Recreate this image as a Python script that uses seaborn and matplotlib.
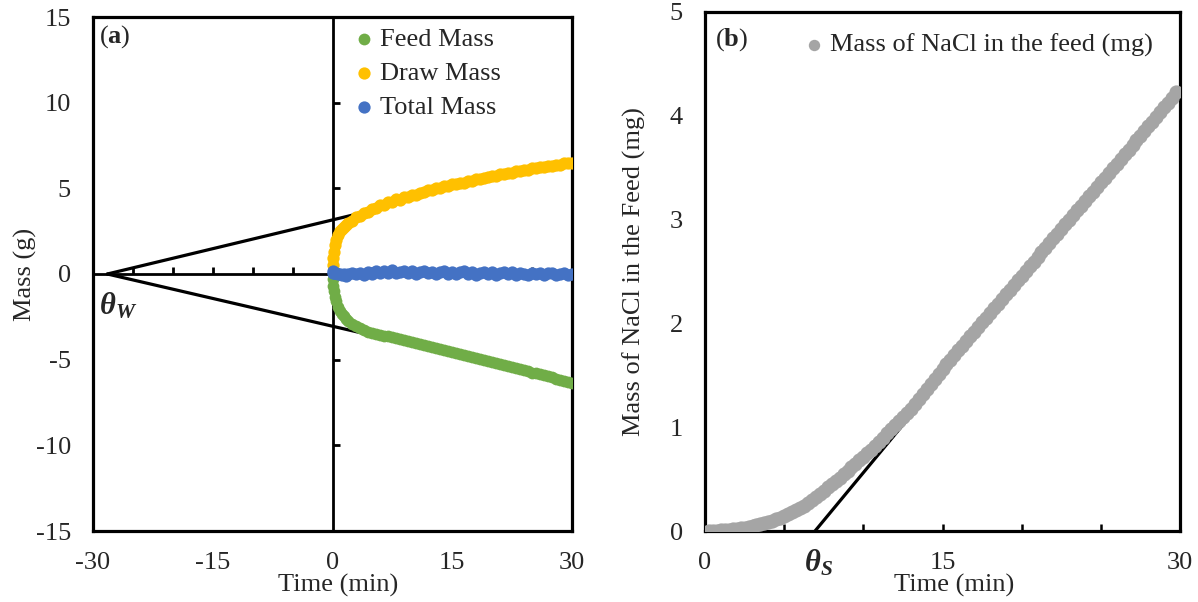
import matplotlib
matplotlib.use("Agg")
import matplotlib.pyplot as plt
import seaborn as sns

# ---------------- data: panel (a) ----------------
time_a = [0, 0.1, 0.2, 0.35, 0.5, 0.75, 1.0, 1.25, 1.5, 1.75,
          2.0, 2.5, 3.0, 3.5, 4.0, 4.5, 5.0, 5.5, 6.0, 6.5,
          7.0, 7.5, 8.0, 8.5, 9.0, 9.5, 10.0, 10.5, 11.0, 11.5,
          12.0, 12.5, 13.0, 13.5, 14.0, 14.5, 15.0, 15.5, 16.0, 16.5,
          17.0, 17.5, 18.0, 18.5, 19.0, 19.5, 20.0, 20.5, 21.0, 21.5,
          22.0, 22.5, 23.0, 23.5, 24.0, 24.5, 25.0, 25.5, 26.0, 26.5,
          27.0, 27.5, 28.0, 28.5, 29.0, 29.5, 30.0]
draw_mass = [0.5, 0.95, 1.3, 1.7, 2.0, 2.3, 2.5, 2.62, 2.75, 2.85,
             2.98, 3.1, 3.3, 3.4, 3.58, 3.63, 3.8, 3.84, 4.0, 4.03,
             4.18, 4.19, 4.35, 4.34, 4.48, 4.5, 4.63, 4.62, 4.75, 4.76,
             4.88, 4.88, 5.01, 5.0, 5.13, 5.12, 5.23, 5.23, 5.33, 5.34,
             5.43, 5.44, 5.53, 5.54, 5.63, 5.64, 5.73, 5.72, 5.83, 5.82,
             5.91, 5.92, 6.0, 6.01, 6.09, 6.08, 6.17, 6.16, 6.23, 6.24,
             6.31, 6.31, 6.39, 6.38, 6.46, 6.45, 6.5]
feed_mass = [-0.3, -0.7, -1.0, -1.35, -1.6, -1.9, -2.15, -2.32, -2.47, -2.6,
             -2.72, -2.9, -3.05, -3.17, -3.28, -3.36, -3.43, -3.49, -3.54, -3.59,
             -3.63, -3.68, -3.73, -3.78, -3.84, -3.9, -3.96, -4.02, -4.08, -4.14,
             -4.2, -4.26, -4.32, -4.38, -4.44, -4.5, -4.56, -4.62, -4.68, -4.74,
             -4.8, -4.86, -4.92, -4.98, -5.04, -5.1, -5.16, -5.22, -5.28, -5.33,
             -5.39, -5.45, -5.51, -5.57, -5.63, -5.69, -5.75, -5.8, -5.86, -5.92,
             -5.98, -6.04, -6.1, -6.16, -6.22, -6.28, -6.34]
total_mass = [0.15, 0.08, 0.05, 0.04, 0.06, 0.02, 0.0, -0.06, 0.01, -0.1,
              -0.02, 0.05, 0.0, 0.08, -0.04, 0.14, 0.02, 0.16, 0.05, 0.2,
              0.08, 0.22, 0.06, 0.12, 0.2, 0.04, 0.16, 0.02, 0.12, 0.18,
              0.04, 0.14, 0.0, 0.12, 0.16, 0.02, 0.14, -0.02, 0.1, 0.15,
              0.0, 0.12, -0.03, 0.08, 0.13, 0.0, 0.1, -0.04, 0.08, 0.12,
              -0.02, 0.1, -0.05, 0.06, 0.02, -0.08, 0.06, -0.02, 0.08, -0.06,
              0.04, 0.07, -0.08, 0.02, 0.05, -0.04, 0.02]
tangent_up_x = [-28.2, 3.6]
tangent_up_y = [0.0, 3.56]
tangent_dn_x = [-28.2, 5.3]
tangent_dn_y = [0.0, -3.62]

xticks_a = [-30, -15, 0, 15, 30]
yticks_a = [-15, -10, -5, 0, 5, 10, 15]
centre_xticks_a = [-25, -20, -15, -10, -5, 5, 10, 15, 20, 25]
centre_yticks_a = [-10, -5, 5, 10]

# ---------------- data: panel (b) ----------------
time_b = [0.25, 0.5, 0.75, 1.0, 1.25, 1.5, 1.75, 2.0, 2.25, 2.5, 2.75, 3.0,
          3.25, 3.5, 3.75, 4.0, 4.25, 4.5, 4.75, 5.0, 5.25, 5.5, 5.75, 6.0,
          6.25, 6.5, 6.75, 7.0, 7.25, 7.5, 7.75, 8.0, 8.25, 8.5, 8.75, 9.0,
          9.25, 9.5, 9.75, 10.0, 10.25, 10.5, 10.75, 11.0, 11.25, 11.5, 11.75, 12.0,
          12.25, 12.5, 12.75, 13.0, 13.25, 13.5, 13.75, 14.0, 14.25, 14.5, 14.75, 15.0,
          15.25, 15.5, 15.75, 16.0, 16.25, 16.5, 16.75, 17.0, 17.25, 17.5, 17.75, 18.0,
          18.25, 18.5, 18.75, 19.0, 19.25, 19.5, 19.75, 20.0, 20.25, 20.5, 20.75, 21.0,
          21.25, 21.5, 21.75, 22.0, 22.25, 22.5, 22.75, 23.0, 23.25, 23.5, 23.75, 24.0,
          24.25, 24.5, 24.75, 25.0, 25.25, 25.5, 25.75, 26.0, 26.25, 26.5, 26.75, 27.0,
          27.25, 27.5, 27.75, 28.0, 28.25, 28.5, 28.75, 29.0, 29.25, 29.5, 29.75]
nacl_mass = [0.0, 0.0, 0.002, 0.005, 0.007, 0.01, 0.015, 0.02, 0.025, 0.03, 0.037, 0.045,
             0.055, 0.065, 0.075, 0.085, 0.1, 0.115, 0.13, 0.145, 0.162, 0.18, 0.2, 0.22,
             0.245, 0.27, 0.3, 0.33, 0.36, 0.39, 0.422, 0.455, 0.485, 0.515, 0.548, 0.58,
             0.612, 0.645, 0.68, 0.715, 0.75, 0.785, 0.822, 0.86, 0.9, 0.94, 0.98, 1.02,
             1.06, 1.10, 1.14, 1.18, 1.228, 1.275, 1.322, 1.37, 1.418, 1.465, 1.512, 1.56,
             1.605, 1.65, 1.695, 1.74, 1.785, 1.83, 1.875, 1.92, 1.965, 2.01, 2.055, 2.10,
             2.145, 2.19, 2.235, 2.28, 2.325, 2.37, 2.415, 2.46, 2.505, 2.55, 2.595, 2.64,
             2.685, 2.73, 2.775, 2.82, 2.865, 2.91, 2.955, 3.0, 3.045, 3.09, 3.135, 3.18,
             3.225, 3.27, 3.315, 3.36, 3.405, 3.45, 3.495, 3.54, 3.585, 3.63, 3.675, 3.72,
             3.765, 3.81, 3.855, 3.9, 3.945, 3.99, 4.035, 4.08, 4.125, 4.17, 4.225]
tangent_b_x = [6.95, 13.3]
tangent_b_y = [0.0, 1.17]

xticks_b = [0, 15, 30]
minor_xticks_b = [5, 10, 20, 25]
yticks_b = [0, 1, 2, 3, 4, 5]

GREEN, YELLOW, BLUE, GRAY = "#70AD47", "#FFC000", "#4472C4", "#A5A5A5"

# ---------------- style ----------------
sns.set_theme(style="white")
plt.rcParams["font.family"] = ["Liberation Serif", "DejaVu Serif"]
plt.rcParams["axes.unicode_minus"] = False
plt.rcParams["mathtext.fontset"] = "custom"
plt.rcParams["mathtext.rm"] = "Liberation Serif"
plt.rcParams["mathtext.it"] = "Liberation Serif:italic"
plt.rcParams["mathtext.bf"] = "Liberation Serif:bold"
plt.rcParams["mathtext.bfit"] = "Liberation Serif:italic:bold"
FS = 19

fig = plt.figure(figsize=(11.98, 6.02), dpi=100)
pos_a = [93 / 1198, 1 - 531 / 602, (572 - 93) / 1198, (531 - 17) / 602]
pos_b = [705 / 1198, 1 - 531 / 602, (1180 - 705) / 1198, (531 - 12) / 602]

# ---- panel (a): frame axes with outer labels ----
ax = fig.add_axes(pos_a)
ax.set_xlim(-30, 30)
ax.set_ylim(-15, 15)
ax.set_xticks(xticks_a)
ax.set_yticks(yticks_a)
ax.tick_params(axis="x", length=0, labelsize=FS, pad=15)
ax.tick_params(axis="y", length=0, labelsize=FS, pad=16)
for s in ax.spines.values():
    s.set_linewidth(2.3)
    s.set_color("black")
ax.set_xlabel("Time (min)", fontsize=FS, va="top")
ax.xaxis.set_label_coords(0.511, -0.083)
ax.set_ylabel("Mass (g)", fontsize=FS)
ax.yaxis.set_label_coords(-0.117, 0.5)

# overlay axes carrying the centred axis lines and the data
axc = fig.add_axes(pos_a)
axc.patch.set_alpha(0)
axc.spines["top"].set_visible(False)
axc.spines["right"].set_visible(False)
axc.spines["left"].set_position(("data", 0))
axc.spines["bottom"].set_position(("data", 0))
for k in ("left", "bottom"):
    axc.spines[k].set_linewidth(2.0)
    axc.spines[k].set_color("black")

sns.lineplot(x=tangent_up_x, y=tangent_up_y, ax=axc, color="black", lw=2.3, zorder=2)
sns.lineplot(x=tangent_dn_x, y=tangent_dn_y, ax=axc, color="black", lw=2.3, zorder=2)
sns.scatterplot(x=time_a, y=feed_mass, ax=axc, color=GREEN, s=72, linewidth=0,
                label="Feed Mass", zorder=3)
sns.scatterplot(x=time_a, y=draw_mass, ax=axc, color=YELLOW, s=78, linewidth=0,
                label="Draw Mass", zorder=3)
sns.scatterplot(x=time_a, y=total_mass, ax=axc, color=BLUE, s=78, linewidth=0,
                label="Total Mass", zorder=3)
axc.set_xlim(-30, 30)
axc.set_ylim(-15, 15)
axc.set_xticks(centre_xticks_a)
axc.set_yticks(centre_yticks_a)
axc.tick_params(direction="in", length=5, width=2, labelbottom=False, labelleft=False,
                bottom=True, left=True, color="black")
axc.set_xlabel("")
axc.set_ylabel("")
axc.legend(loc="upper left", bbox_to_anchor=(0.505, 1.005), frameon=False, fontsize=FS,
           handletextpad=0.0, labelspacing=0.4, borderaxespad=0.1, markerscale=1.0,
           handlelength=1.2)
axc.text(0.012, 0.962, r"($\mathbf{a}$)", transform=axc.transAxes, fontsize=FS,
         ha="left", va="center")
axc.text(-29.3, -1.9, r"$\mathbfit{\theta}_{\mathbfit{W}}$", fontsize=FS + 3,
         ha="left", va="center")

# ---- panel (b) ----
bx = fig.add_axes(pos_b)
sns.lineplot(x=tangent_b_x, y=tangent_b_y, ax=bx, color="black", lw=2.3, zorder=2)
sns.scatterplot(x=time_b, y=nacl_mass, ax=bx, color=GRAY, s=105, linewidth=0,
                label="Mass of NaCl in the feed (mg)", zorder=3)
bx.set_xlim(0, 30)
bx.set_ylim(0, 5)
bx.set_xticks(xticks_b)
bx.set_xticks(minor_xticks_b, minor=True)
bx.set_yticks(yticks_b)
bx.tick_params(axis="x", which="both", direction="in", length=5, width=1.8,
               bottom=True, labelsize=FS, pad=15, color="black")
bx.tick_params(axis="y", length=0, labelsize=FS, pad=16)
for s in bx.spines.values():
    s.set_linewidth(2.3)
    s.set_color("black")
bx.set_xlabel("Time (min)", fontsize=FS, va="top")
bx.xaxis.set_label_coords(0.524, -0.083)
bx.set_ylabel("Mass of NaCl in the Feed (mg)", fontsize=FS)
bx.yaxis.set_label_coords(-0.124, 0.5)
bx.legend(loc="upper right", bbox_to_anchor=(0.97, 0.985), frameon=False, fontsize=FS,
          handletextpad=0.0, borderaxespad=0.1, handlelength=1.2, markerscale=0.8)
bx.text(0.021, 0.946, r"($\mathbf{b}$)", transform=bx.transAxes, fontsize=FS,
        ha="left", va="center")
bx.text(7.2, -0.31, r"$\mathbfit{\theta}_{\mathbfit{S}}$", fontsize=FS + 3,
        ha="center", va="center", clip_on=False)

fig.savefig("out.png", dpi=100)
